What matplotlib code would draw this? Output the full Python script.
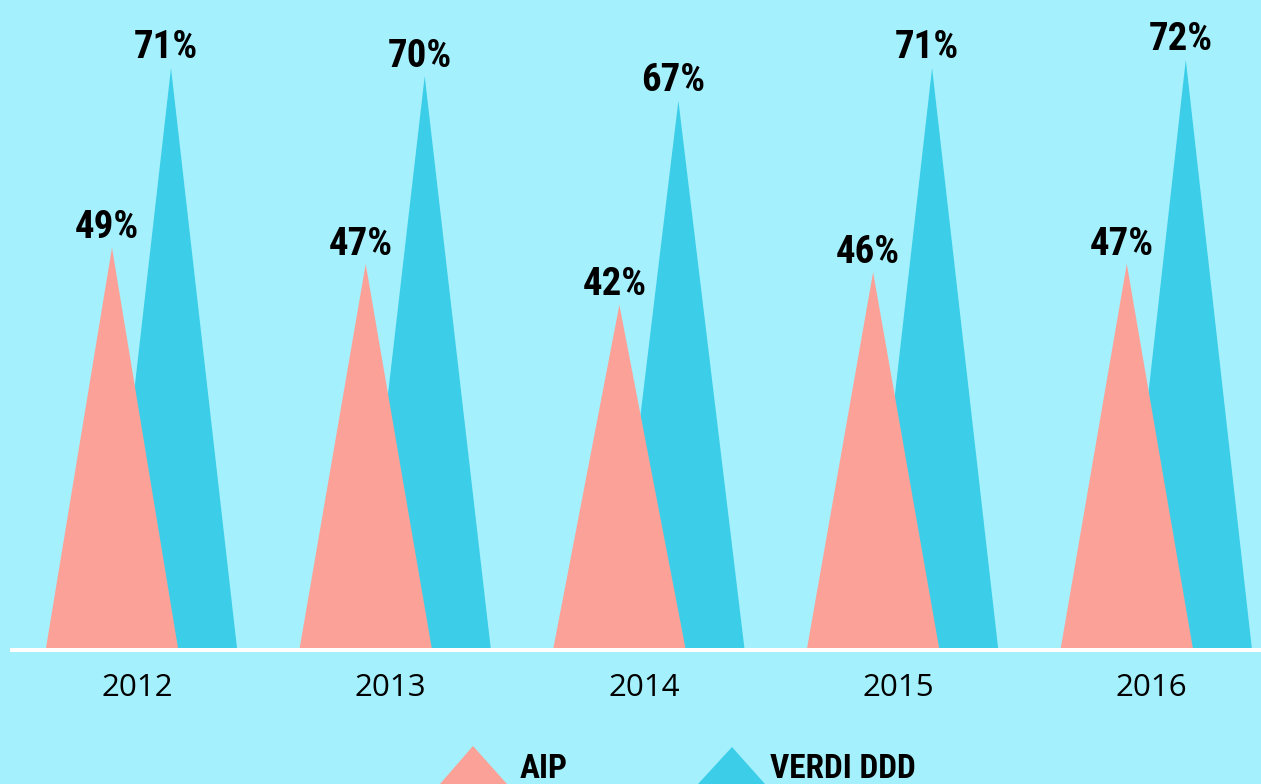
import matplotlib as mpl
mpl.use('Agg')
import matplotlib.pyplot as plt
from matplotlib.patches import Polygon
from matplotlib import font_manager

years = ['2012', '2013', '2014', '2015', '2016']
aip = [49, 47, 42, 46, 47]
verdi = [71, 70, 67, 71, 72]
series_names = ['AIP', 'VERDI DDD']

bg = '#A5F0FD'
c_aip = '#FCA197'
c_verdi = '#3CCEE8'

# pick a condensed bold face if one is installed
names = {f.name for f in font_manager.fontManager.ttflist}
cond = 'Roboto'
for n in ['Roboto Condensed', 'Open Sans Condensed', 'Liberation Sans Narrow', 'Roboto']:
    if n in names:
        cond = n
        break

W, H = 1261, 784
fig = plt.figure(figsize=(W / 100, H / 100), dpi=100, facecolor=bg)
ax = fig.add_axes([0, 0, 1, 1])
ax.set_facecolor(bg)
ax.axis('off')

# pixel mapping: x unit = one year group, y unit = one percent
gx = 253.7
x0 = 137
py = 8.17
base_px = H - 648
ax.set_xlim(-x0 / gx, (W - x0) / gx)
ax.set_ylim(-base_px / py, (H - base_px) / py)

hw = 66 / gx
off_aip = -25 / gx
off_verdi = 34 / gx

for i, (a, v) in enumerate(zip(aip, verdi)):
    xv = i + off_verdi
    ax.fill([xv - hw, xv, xv + hw], [0, v, 0], color=c_verdi, lw=0, zorder=2)
    xa = i + off_aip
    ax.fill([xa - hw, xa, xa + hw], [0, a, 0], color=c_aip, lw=0, zorder=3)
    for xx, val in ((xa, a), (xv, v)):
        ax.text(xx - 5 / gx, val + 9.5 / py, f'{val}%', ha='center', va='baseline',
                fontsize=28, fontweight='bold', family=cond, color='black', zorder=5)
    ax.text(i, -48 / py, years[i], ha='center', va='baseline', fontsize=22.5,
            family='Open Sans', color='black', zorder=5)

# baseline
ax.axhline(-2 / py, xmin=12 / W, xmax=1, color='white', lw=2.9, zorder=4)

# legend at the bottom
def tri(xl, xr, xa, ya, color):
    p = Polygon([(xl / W, 1 - 784 / H), (xa / W, 1 - ya / H), (xr / W, 1 - 784 / H)],
                closed=True, transform=fig.transFigure, color=color, lw=0)
    fig.patches.append(p)

tri(440, 507, 473, 746, c_aip)
tri(698, 765, 732, 747, c_verdi)
fig.text(520 / W, 1 - 778 / H, series_names[0], ha='left', va='baseline',
         fontsize=24, fontweight='bold', family=cond, color='black')
fig.text(770 / W, 1 - 778 / H, series_names[1], ha='left', va='baseline',
         fontsize=24, fontweight='bold', family=cond, color='black')

fig.savefig('out.png', dpi=100, facecolor=bg)
